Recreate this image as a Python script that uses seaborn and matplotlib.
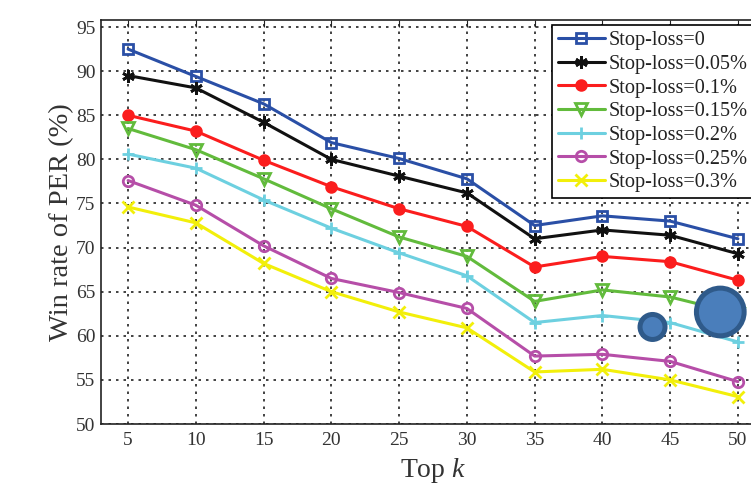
import matplotlib
matplotlib.use("Agg")
import matplotlib.pyplot as plt
import seaborn as sns
import numpy as np

top_k = [5, 10, 15, 20, 25, 30, 35, 40, 45, 50]
labels = ["Stop-loss=0", "Stop-loss=0.05%", "Stop-loss=0.1%", "Stop-loss=0.15%",
          "Stop-loss=0.2%", "Stop-loss=0.25%", "Stop-loss=0.3%"]
sl_0 = [92.5, 89.4, 86.3, 81.9, 80.1, 77.8, 72.5, 73.6, 73.0, 71.0]
sl_005 = [89.5, 88.1, 84.2, 80.0, 78.1, 76.2, 71.0, 72.0, 71.4, 69.3]
sl_01 = [85.0, 83.2, 79.9, 76.9, 74.4, 72.4, 67.8, 69.0, 68.4, 66.3]
sl_015 = [83.5, 81.1, 77.8, 74.4, 71.2, 69.0, 63.9, 65.2, 64.4, 62.5]
sl_02 = [80.6, 79.0, 75.4, 72.2, 69.4, 66.8, 61.5, 62.3, 61.5, 59.3]
sl_025 = [77.6, 74.8, 70.2, 66.5, 64.9, 63.1, 57.7, 57.9, 57.1, 54.8]
sl_03 = [74.6, 72.8, 68.2, 65.0, 62.7, 60.9, 55.9, 56.2, 55.0, 53.1]
blob_x = [43.7, 48.7]
blob_y = [61.0, 62.7]
blob_size = [324, 1180]

series = [sl_0, sl_005, sl_01, sl_015, sl_02, sl_025, sl_03]
colors = ["#2a4fa6", "#111111", "#fb1d1d", "#62bb3c", "#6dd0e0", "#b64ea8", "#f2ef0a"]
markers = ["s", (6, 2, 0), "o", "v", "+", "o", "x"]
filled = [False, True, True, False, True, False, True]
msizes = [6.5, 9, 7, 8, 9, 7.5, 8]

sns.set_style("white")
plt.rcParams["font.family"] = ["Liberation Serif", "DejaVu Serif"]
plt.rcParams["mathtext.fontset"] = "custom"
plt.rcParams["mathtext.it"] = "Liberation Serif:italic"
plt.rcParams["mathtext.rm"] = "Liberation Serif"

fig = plt.figure(figsize=(7.51, 4.84), dpi=100)
# axes extends slightly past the right edge (reference is cropped there)
ax = fig.add_axes([101 / 751, 1 - 424 / 484, 664 / 751, 404 / 484])

for vals, lab, c, m, f, ms in zip(series, labels, colors, markers, filled, msizes):
    sns.lineplot(x=top_k, y=vals, ax=ax, color=c, label=lab, linewidth=2.2,
                 marker=m, markersize=ms,
                 markerfacecolor=(c if f else "none"), markeredgecolor=c,
                 markeredgewidth=2.0)

sns.scatterplot(x=blob_x, y=blob_y, s=blob_size, color="#4a7ebb",
                edgecolor="#2f5a8a", linewidth=3.6, ax=ax, zorder=10, legend=False)

ax.set_xlim(3, 52)
ax.set_ylim(50, 95.8)
ax.set_xticks(top_k)
ax.set_yticks(np.arange(50, 96, 5))
ax.tick_params(axis="both", direction="in", labelsize=14, length=5, color="#222222",
               labelcolor="#333333", top=True, right=True, pad=4)
ax.tick_params(axis="x", pad=6)
ax.grid(True, linestyle=(0, (1.5, 3)), color="#222222", linewidth=1.2)
for s in ax.spines.values():
    s.set_color("#222222")
    s.set_linewidth(1.2)

ax.set_xlabel("Top $k$", fontsize=20, color="#333333", labelpad=5)
ax.set_ylabel("Win rate of PER (%)", fontsize=20.5, color="#333333", labelpad=1)

leg = ax.legend(loc="upper left", bbox_to_anchor=(552 / 751, 1 - 25 / 484),
                bbox_transform=fig.transFigure,
                fontsize=14.6, frameon=True, fancybox=False,
                handlelength=2.3, handletextpad=0.2, borderpad=0.3,
                labelspacing=0.22, borderaxespad=0.0)
leg.get_frame().set_edgecolor("black")
leg.get_frame().set_linewidth(1.2)
leg.get_frame().set_alpha(1)
for t in leg.get_texts():
    t.set_color("#222222")

fig.savefig("out.png", dpi=100)
